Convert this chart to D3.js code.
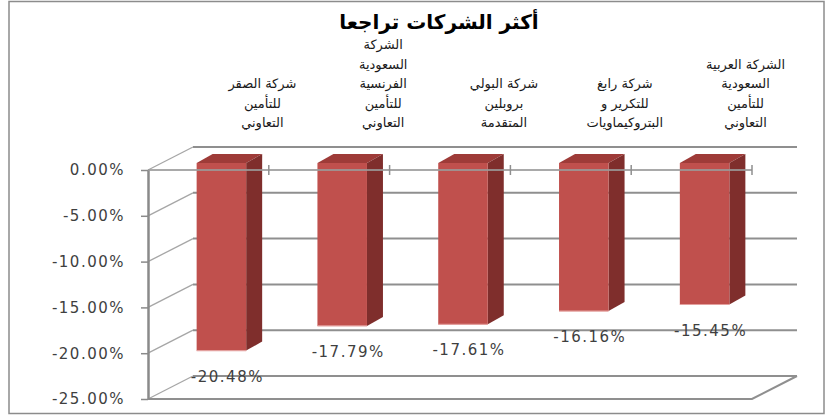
<!doctype html>
<html lang="ar">
<head>
  <meta charset="UTF-8">
  <title>أكثر الشركات تراجعا</title>
  <script src="https://cdn.jsdelivr.net/npm/d3@7"></script>
  <style>
    body { margin: 0; background: #fff; }
    text { font-family: "DejaVu Sans", sans-serif; }
  </style>
</head>
<body>
<div id="chart"></div>
<script type="text/javascript">
// data
var title = 'أكثر الشركات تراجعا';
var companies = [
  ['شركة الصقر', 'للتأمين', 'التعاوني'],
  ['الشركة', 'السعودية', 'الفرنسية', 'للتأمين', 'التعاوني'],
  ['شركة البولي', 'بروبلين', 'المتقدمة'],
  ['شركة رابغ', 'للتكرير و', 'البتروكيماويات'],
  ['الشركة العربية', 'السعودية', 'للتأمين', 'التعاوني']
];
var changes = [-20.48, -17.79, -17.61, -16.16, -15.45];
var yTicks = [0, -5, -10, -15, -20, -25];

var W = 830, H = 418;
var svg = d3.select('#chart').append('svg')
  .attr('width', W)
  .attr('height', H);

// outer frame
svg.append('rect')
  .attr('x', 9).attr('y', 1.5)
  .attr('width', 815).attr('height', 412)
  .attr('fill', '#fff')
  .attr('stroke', '#8c8c8c')
  .attr('stroke-width', 1.5);

// front plane scales, depth offset for the 3d box
var x = d3.scaleBand().domain(d3.range(companies.length)).range([148, 752]);
var y = d3.scaleLinear().domain([-25, 0]).range([399, 170]);
var depth = {dx: 45, dy: -23};
var barOff = {dx: 13, dy: -7};   // where the bar front face sits in depth
var barDepth = {dx: 16, dy: -9};
var barW = x.bandwidth() * 0.41;

var grid = svg.append('g').attr('class', 'grid');

// back wall lines
grid.selectAll('.back').data(yTicks).enter()
  .append('line')
  .attr('class', 'back')
  .attr('x1', x.range()[0] + depth.dx)
  .attr('x2', x.range()[1] + depth.dx)
  .attr('y1', function(d) { return y(d) + depth.dy; })
  .attr('y2', function(d) { return y(d) + depth.dy; })
  .attr('stroke', '#8f8f8f')
  .attr('stroke-width', 2);

// side wall diagonals
grid.selectAll('.side').data(yTicks).enter()
  .append('line')
  .attr('class', 'side')
  .attr('x1', x.range()[0])
  .attr('x2', x.range()[0] + depth.dx)
  .attr('y1', function(d) { return y(d); })
  .attr('y2', function(d) { return y(d) + depth.dy; })
  .attr('stroke', '#a6a6a6')
  .attr('stroke-width', 1.3);

// floor front edge + right diagonal
var yMin = y(-25);
grid.append('path')
  .attr('d', 'M' + x.range()[0] + ',' + yMin + 'H' + x.range()[1] +
             'L' + (x.range()[1] + depth.dx) + ',' + (yMin + depth.dy))
  .attr('fill', 'none')
  .attr('stroke', '#8f8f8f')
  .attr('stroke-width', 2);

// bars
var bars = svg.selectAll('.bar').data(changes).enter()
  .append('g').attr('class', 'bar');

function bx0(d, i) { return x(i) + x.bandwidth() / 2 - barW / 2 + barOff.dx; }

bars.append('path')
  .attr('fill', '#9e3b38')
  .attr('d', function(d, i) {
    var x0 = bx0(d, i), x1 = x0 + barW, t = y(0) + barOff.dy;
    return 'M' + x0 + ',' + t + 'L' + (x0 + barDepth.dx) + ',' + (t + barDepth.dy) +
      'H' + (x1 + barDepth.dx) + 'L' + x1 + ',' + t + 'Z';
  });

bars.append('path')
  .attr('fill', '#7f2e2c')
  .attr('d', function(d, i) {
    var x1 = bx0(d, i) + barW, t = y(0) + barOff.dy, b = y(d) + barOff.dy;
    return 'M' + x1 + ',' + t + 'L' + (x1 + barDepth.dx) + ',' + (t + barDepth.dy) +
      'V' + (b + barDepth.dy) + 'L' + x1 + ',' + b + 'Z';
  });

bars.append('rect')
  .attr('x', bx0)
  .attr('y', y(0) + barOff.dy)
  .attr('width', barW)
  .attr('height', function(d) { return y(d) - y(0); })
  .attr('fill', '#c0504d');

bars.append('line')
  .attr('x1', bx0)
  .attr('x2', function(d, i) { return bx0(d, i) + barW; })
  .attr('y1', function(d) { return y(d) + barOff.dy; })
  .attr('y2', function(d) { return y(d) + barOff.dy; })
  .attr('stroke', '#e3a09e')
  .attr('stroke-width', 1.2);

// category axis line across the front at 0%
var catAxis = svg.append('g').attr('transform', 'translate(0,' + y(0) + ')');
catAxis.append('line')
  .attr('x1', x.range()[0]).attr('x2', x.range()[1])
  .attr('stroke', '#9a9a9a')
  .attr('stroke-opacity', 0.85)
  .attr('stroke-width', 2);
catAxis.selectAll('.ctick').data(d3.range(1, companies.length + 1)).enter()
  .append('line')
  .attr('x1', function(i) { return x.range()[0] + i * x.step(); })
  .attr('x2', function(i) { return x.range()[0] + i * x.step(); })
  .attr('y1', -5).attr('y2', 5)
  .attr('stroke', '#8f8f8f')
  .attr('stroke-width', 1.5);

// value axis
var yAxis = d3.axisLeft(y)
  .tickValues(yTicks)
  .tickSize(7)
  .tickSizeOuter(0)
  .tickPadding(16)
  .tickFormat(function(d) { return d.toFixed(2) + '%'; });

var ya = svg.append('g')
  .attr('transform', 'translate(' + x.range()[0] + ',0)')
  .call(yAxis);
ya.select('.domain').attr('stroke', '#8a8a8a').attr('stroke-width', 2.5);
ya.selectAll('.tick line').attr('stroke', '#8a8a8a').attr('stroke-width', 1.5);
ya.selectAll('.tick text')
  .attr('fill', '#3f3f3f')
  .style('font-family', '"DejaVu Sans", sans-serif')
  .style('font-size', '15px')
  .style('letter-spacing', '1.5px');

// value labels
svg.selectAll('.val').data(changes).enter()
  .append('text')
  .attr('class', 'val')
  .attr('x', function(d, i) { return bx0(d, i) + barW / 2 + 6; })
  .attr('y', function(d) { return y(d) + barOff.dy + 31; })
  .attr('text-anchor', 'middle')
  .attr('fill', '#3f3f3f')
  .style('font-size', '15px')
  .style('letter-spacing', '1.5px')
  .text(function(d) { return d.toFixed(2) + '%'; });

// category labels, bottom aligned above the box
var lineH = 19.5;
var cats = svg.selectAll('.cat').data(companies).enter()
  .append('text')
  .attr('class', 'cat')
  .attr('text-anchor', 'middle')
  .attr('fill', '#1a1a1a')
  .style('font-size', '13px');
cats.selectAll('tspan').data(function(d) { return d; }).enter()
  .append('tspan')
  .attr('x', function() {
    var i = companies.indexOf(d3.select(this.parentNode).datum());
    return x(i) + x.bandwidth() / 2 + 54;
  })
  .attr('y', function(d, j) {
    var n = d3.select(this.parentNode).datum().length;
    return 127 - (n - 1 - j) * lineH;
  })
  .text(function(d) { return d; });

// title
svg.append('text')
  .attr('x', 439)
  .attr('y', 29)
  .attr('text-anchor', 'middle')
  .attr('fill', '#000')
  .style('font-size', '20px')
  .style('font-weight', 'bold')
  .text(title);
</script>
</body>
</html>
